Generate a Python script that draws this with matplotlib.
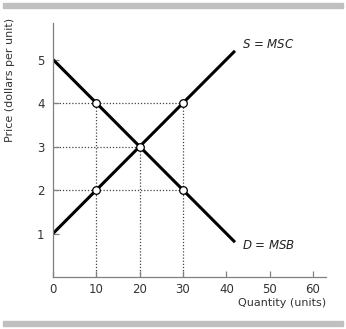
import matplotlib
matplotlib.use("Agg")
import matplotlib.pyplot as plt
from matplotlib.patches import Rectangle

# Data
supply_q = [0, 42]
supply_p = [1, 5.2]
demand_q = [0, 42]
demand_p = [5, 0.8]
points_q = [10, 10, 20, 30, 30]
points_p = [4, 2, 3, 4, 2]
h_guides = [(4, 30), (3, 20), (2, 30)]   # (price, quantity end)
v_guides = [(10, 4), (20, 3), (30, 4)]   # (quantity, price top)
xticks = [0, 10, 20, 30, 40, 50, 60]
yticks = [1, 2, 3, 4, 5]

plt.rcParams['font.family'] = ['DejaVu Sans']
plt.rcParams['mathtext.fontset'] = 'dejavusans'
fig = plt.figure(figsize=(3.46, 3.29), dpi=100)
ax = fig.add_axes([53/346, 52/329, (326-53)/346, (277-23)/329])
ax.set_xlim(0, 63)
ax.set_ylim(0, 5.84)

gray = '#808080'
for sp in ['top', 'right']:
    ax.spines[sp].set_visible(False)
for sp in ['left', 'bottom']:
    ax.spines[sp].set_color(gray)
    ax.spines[sp].set_linewidth(0.9)

for p, q in h_guides:
    ax.plot([0, q], [p, p], color='#444444', lw=0.9, ls=(0, (1, 1.5)), zorder=1)
for q, p in v_guides:
    ax.plot([q, q], [0, p], color='#444444', lw=0.9, ls=(0, (1, 1.5)), zorder=1)

ax.plot(supply_q, supply_p, color='black', lw=2.2, solid_capstyle='butt', zorder=2)
ax.plot(demand_q, demand_p, color='black', lw=2.2, solid_capstyle='butt', zorder=2)
ax.scatter(points_q, points_p, s=30, facecolor='white', edgecolor='black', linewidth=0.9, zorder=3)

ax.set_xticks(xticks)
ax.set_yticks(yticks)
ax.tick_params(direction='in', length=4, width=0.9, color=gray, labelsize=8.5,
               labelcolor='#333333')
ax.tick_params(axis='x', pad=4)
ax.tick_params(axis='y', pad=6)

ax.text(43.5, 5.35, r'$S$ = $MSC$', fontsize=8.5, color='#222222', ha='left', va='center')
ax.text(43.5, 0.72, r'$D$ = $MSB$', fontsize=8.5, color='#222222', ha='left', va='center')

fig.text(326/346, 1 - 303.5/329, 'Quantity (units)', fontsize=8, color='#333333',
         ha='right', va='center')
fig.text(10/346, 1 - 80/329, 'Price (dollars per unit)', fontsize=8, color='#333333',
         ha='center', va='center', rotation=90)

fig.patches.append(Rectangle((3/346, 1 - 8/329), 340/346, 5/329, transform=fig.transFigure,
                             color='#c0c0c0', zorder=0))
fig.patches.append(Rectangle((3/346, 1 - 326/329), 340/346, 5/329, transform=fig.transFigure,
                             color='#c0c0c0', zorder=0))

fig.savefig('out.png', dpi=100)
